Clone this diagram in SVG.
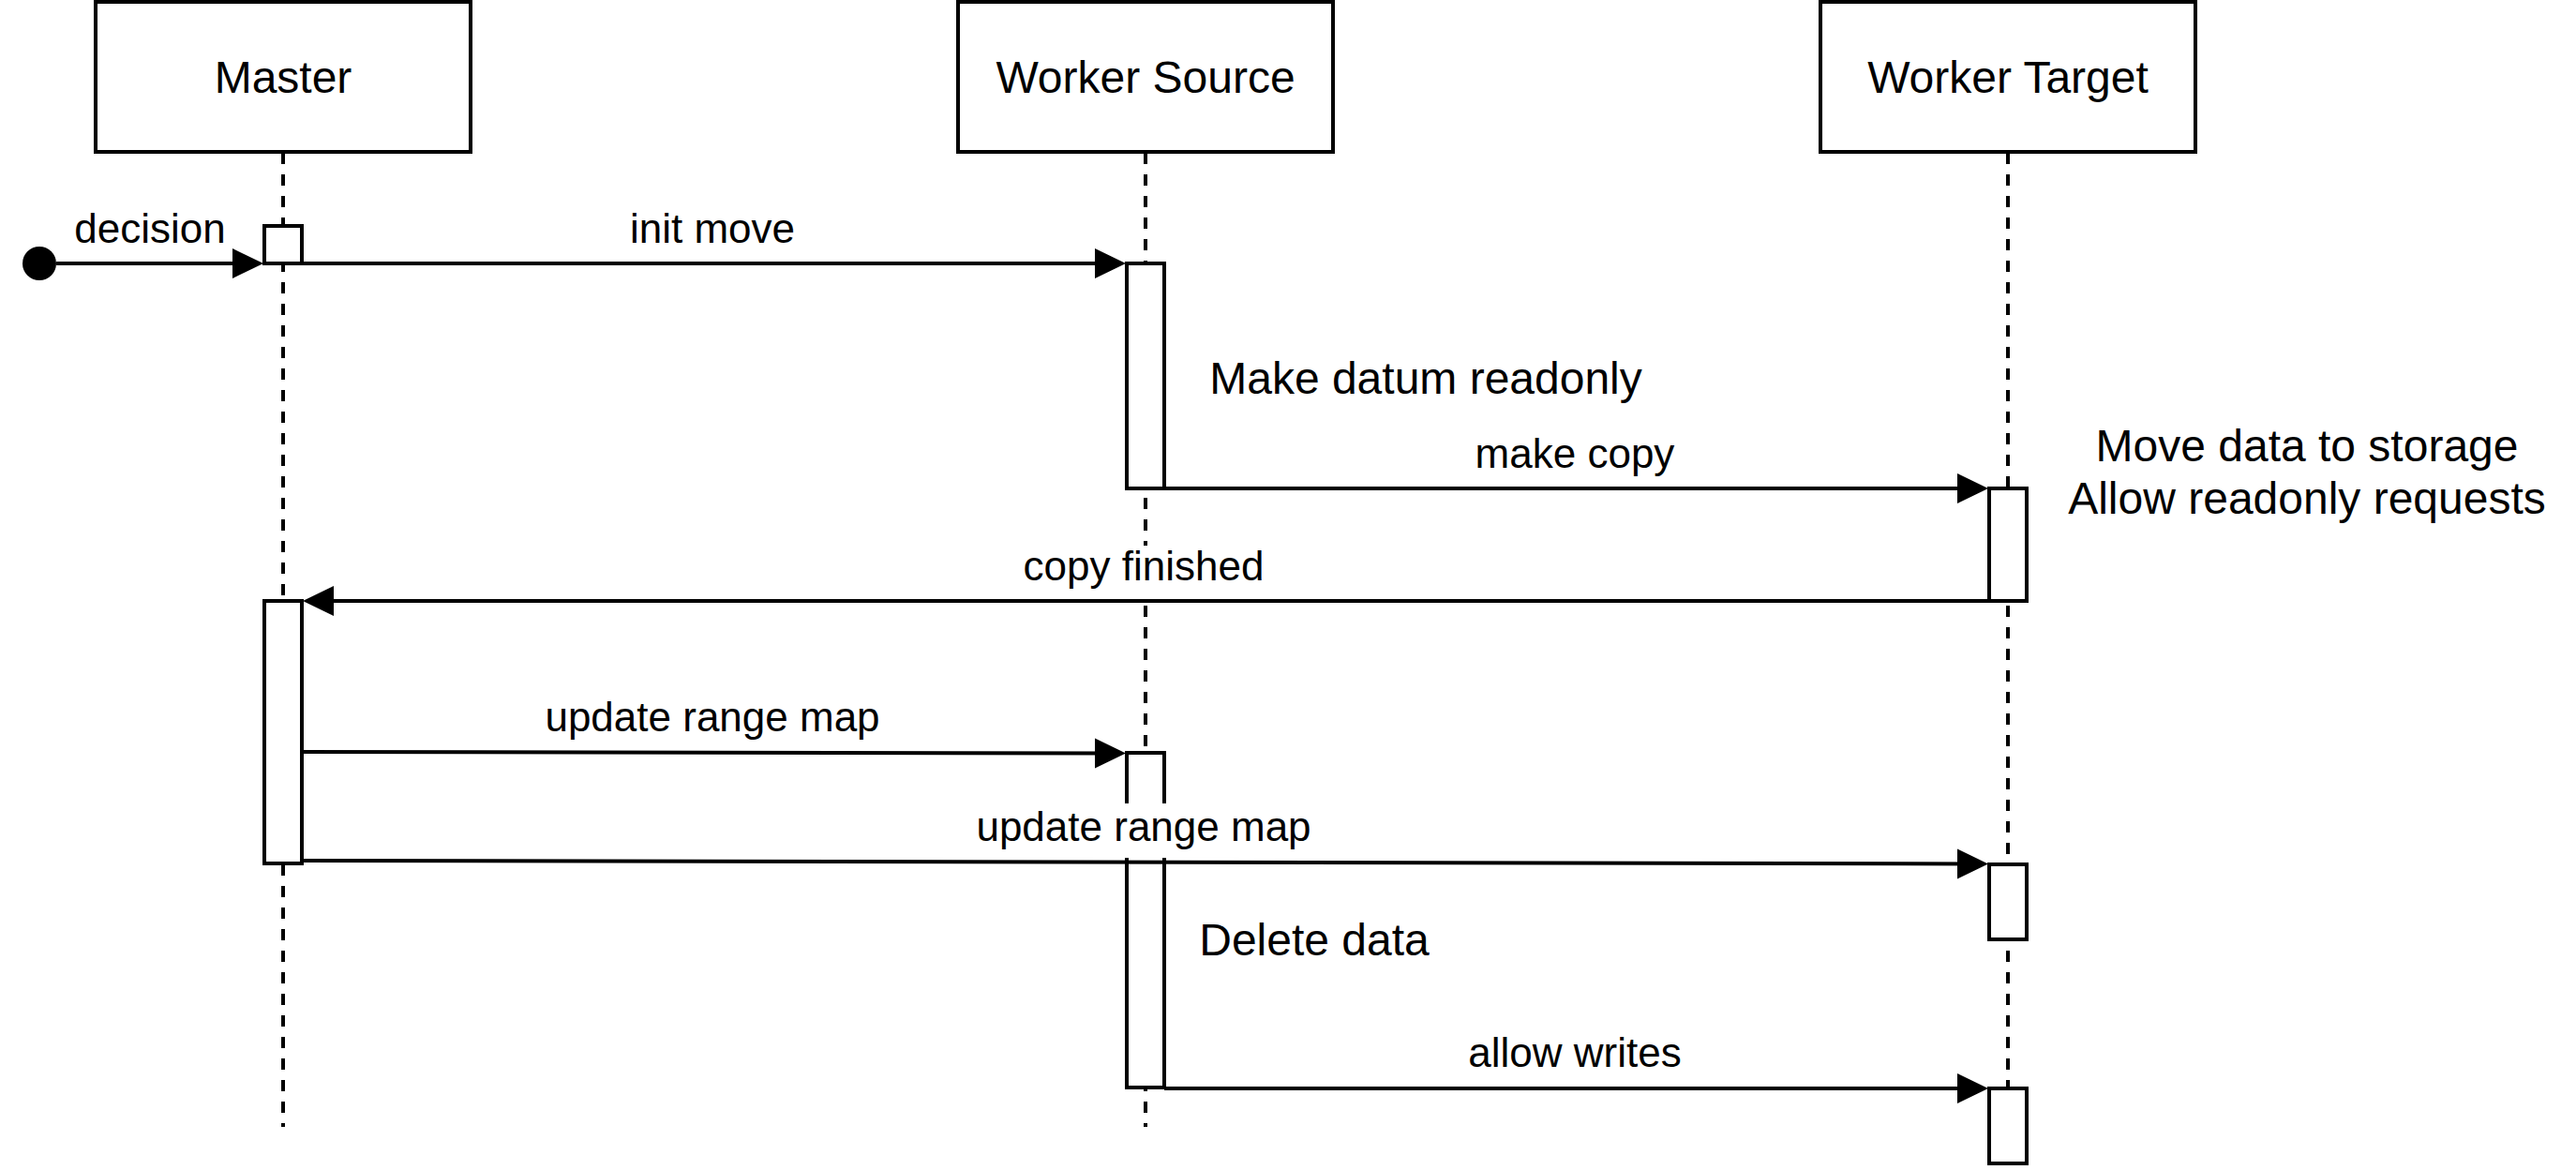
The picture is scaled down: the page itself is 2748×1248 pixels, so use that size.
<svg xmlns="http://www.w3.org/2000/svg" width="2748" height="1248" viewBox="0 0 2748 1248">
<style>
.box{fill:#fff;stroke:#000;stroke-width:4}
.act{fill:#fff;stroke:#000;stroke-width:4}
.life{stroke:#000;stroke-width:4;stroke-dasharray:12 11;fill:none}
.msg{stroke:#000;stroke-width:4;fill:none;marker-end:url(#arr)}
.nl{font-family:"Liberation Sans",Arial,sans-serif;font-size:48px;fill:#000;text-anchor:middle}
.el{font-family:"Liberation Sans",Arial,sans-serif;font-size:44px;fill:#000;text-anchor:middle}
.bg{fill:#fff;stroke:none}
</style>
<defs>
<marker id="arr" markerUnits="userSpaceOnUse" markerWidth="34" markerHeight="34" refX="24" refY="16" orient="auto">
<path d="M0,0 L33,16 L0,32 Z" fill="#000"/>
</marker>
</defs>
<g id="lifelines">
<line class="life" x1="302" y1="163" x2="302" y2="1202"/>
<line class="life" x1="1222" y1="163" x2="1222" y2="1202"/>
<line class="life" x1="2142" y1="163" x2="2142" y2="1202"/>
</g>
<g id="master">
<rect class="box" x="102" y="2" width="400" height="160"/>
<text class="nl" x="302" y="99">Master</text>
</g>
<g id="worker-source">
<rect class="box" x="1022" y="2" width="400" height="160"/>
<text class="nl" x="1222" y="99">Worker Source</text>
</g>
<g id="worker-target">
<rect class="box" x="1942" y="2" width="400" height="160"/>
<text class="nl" x="2142" y="99">Worker Target</text>
</g>
<g id="start">
<circle cx="42" cy="281" r="18" fill="#000"/>
</g>
<g id="activations">
<rect id="act-master-1" class="act" x="282" y="241" width="40" height="40"/>
<rect id="act-master-2" class="act" x="282" y="641" width="40" height="280"/>
<rect id="act-ws-1" class="act" x="1202" y="281" width="40" height="240"/>
<rect id="act-ws-2" class="act" x="1202" y="803" width="40" height="357"/>
<rect id="act-wt-1" class="act" x="2122" y="521" width="40" height="120"/>
<rect id="act-wt-2" class="act" x="2122" y="922" width="40" height="80"/>
<rect id="act-wt-3" class="act" x="2122" y="1161" width="40" height="80"/>
</g>
<g id="connectors">
<line class="msg" x1="60" y1="281" x2="272" y2="281"/>
<line class="msg" x1="322" y1="281" x2="1192" y2="281"/>
<line class="msg" x1="1242" y1="521" x2="2112" y2="521"/>
<line class="msg" x1="2122" y1="641" x2="332" y2="641"/>
<line class="msg" x1="322" y1="802" x2="1192" y2="803.5"/>
<line class="msg" x1="322" y1="918" x2="2112" y2="921.5"/>
<line class="msg" x1="1242" y1="1161" x2="2112" y2="1161"/>
</g>
<g id="labels">
<text class="el" x="160" y="259">decision</text>
<text class="el" x="760" y="259">init move</text>
<text class="el" x="1680" y="499">make copy</text>
<rect class="bg" x="1090" y="582" width="260" height="56"/>
<text class="el" x="1220" y="619">copy finished</text>
<text class="el" x="760" y="780">update range map</text>
<rect class="bg" x="1040" y="857" width="360" height="58"/>
<text class="el" x="1220" y="897">update range map</text>
<text class="el" x="1680" y="1138">allow writes</text>
</g>
<g id="notes">
<text id="note-readonly" class="nl" x="1521" y="420">Make datum readonly</text>
<text id="note-storage" class="nl" x="2461" y="492">Move data to storage</text>
<text id="note-allow" class="nl" x="2461" y="548">Allow readonly requests</text>
<text id="note-delete" class="nl" x="1402" y="1019">Delete data</text>
</g>
</svg>
